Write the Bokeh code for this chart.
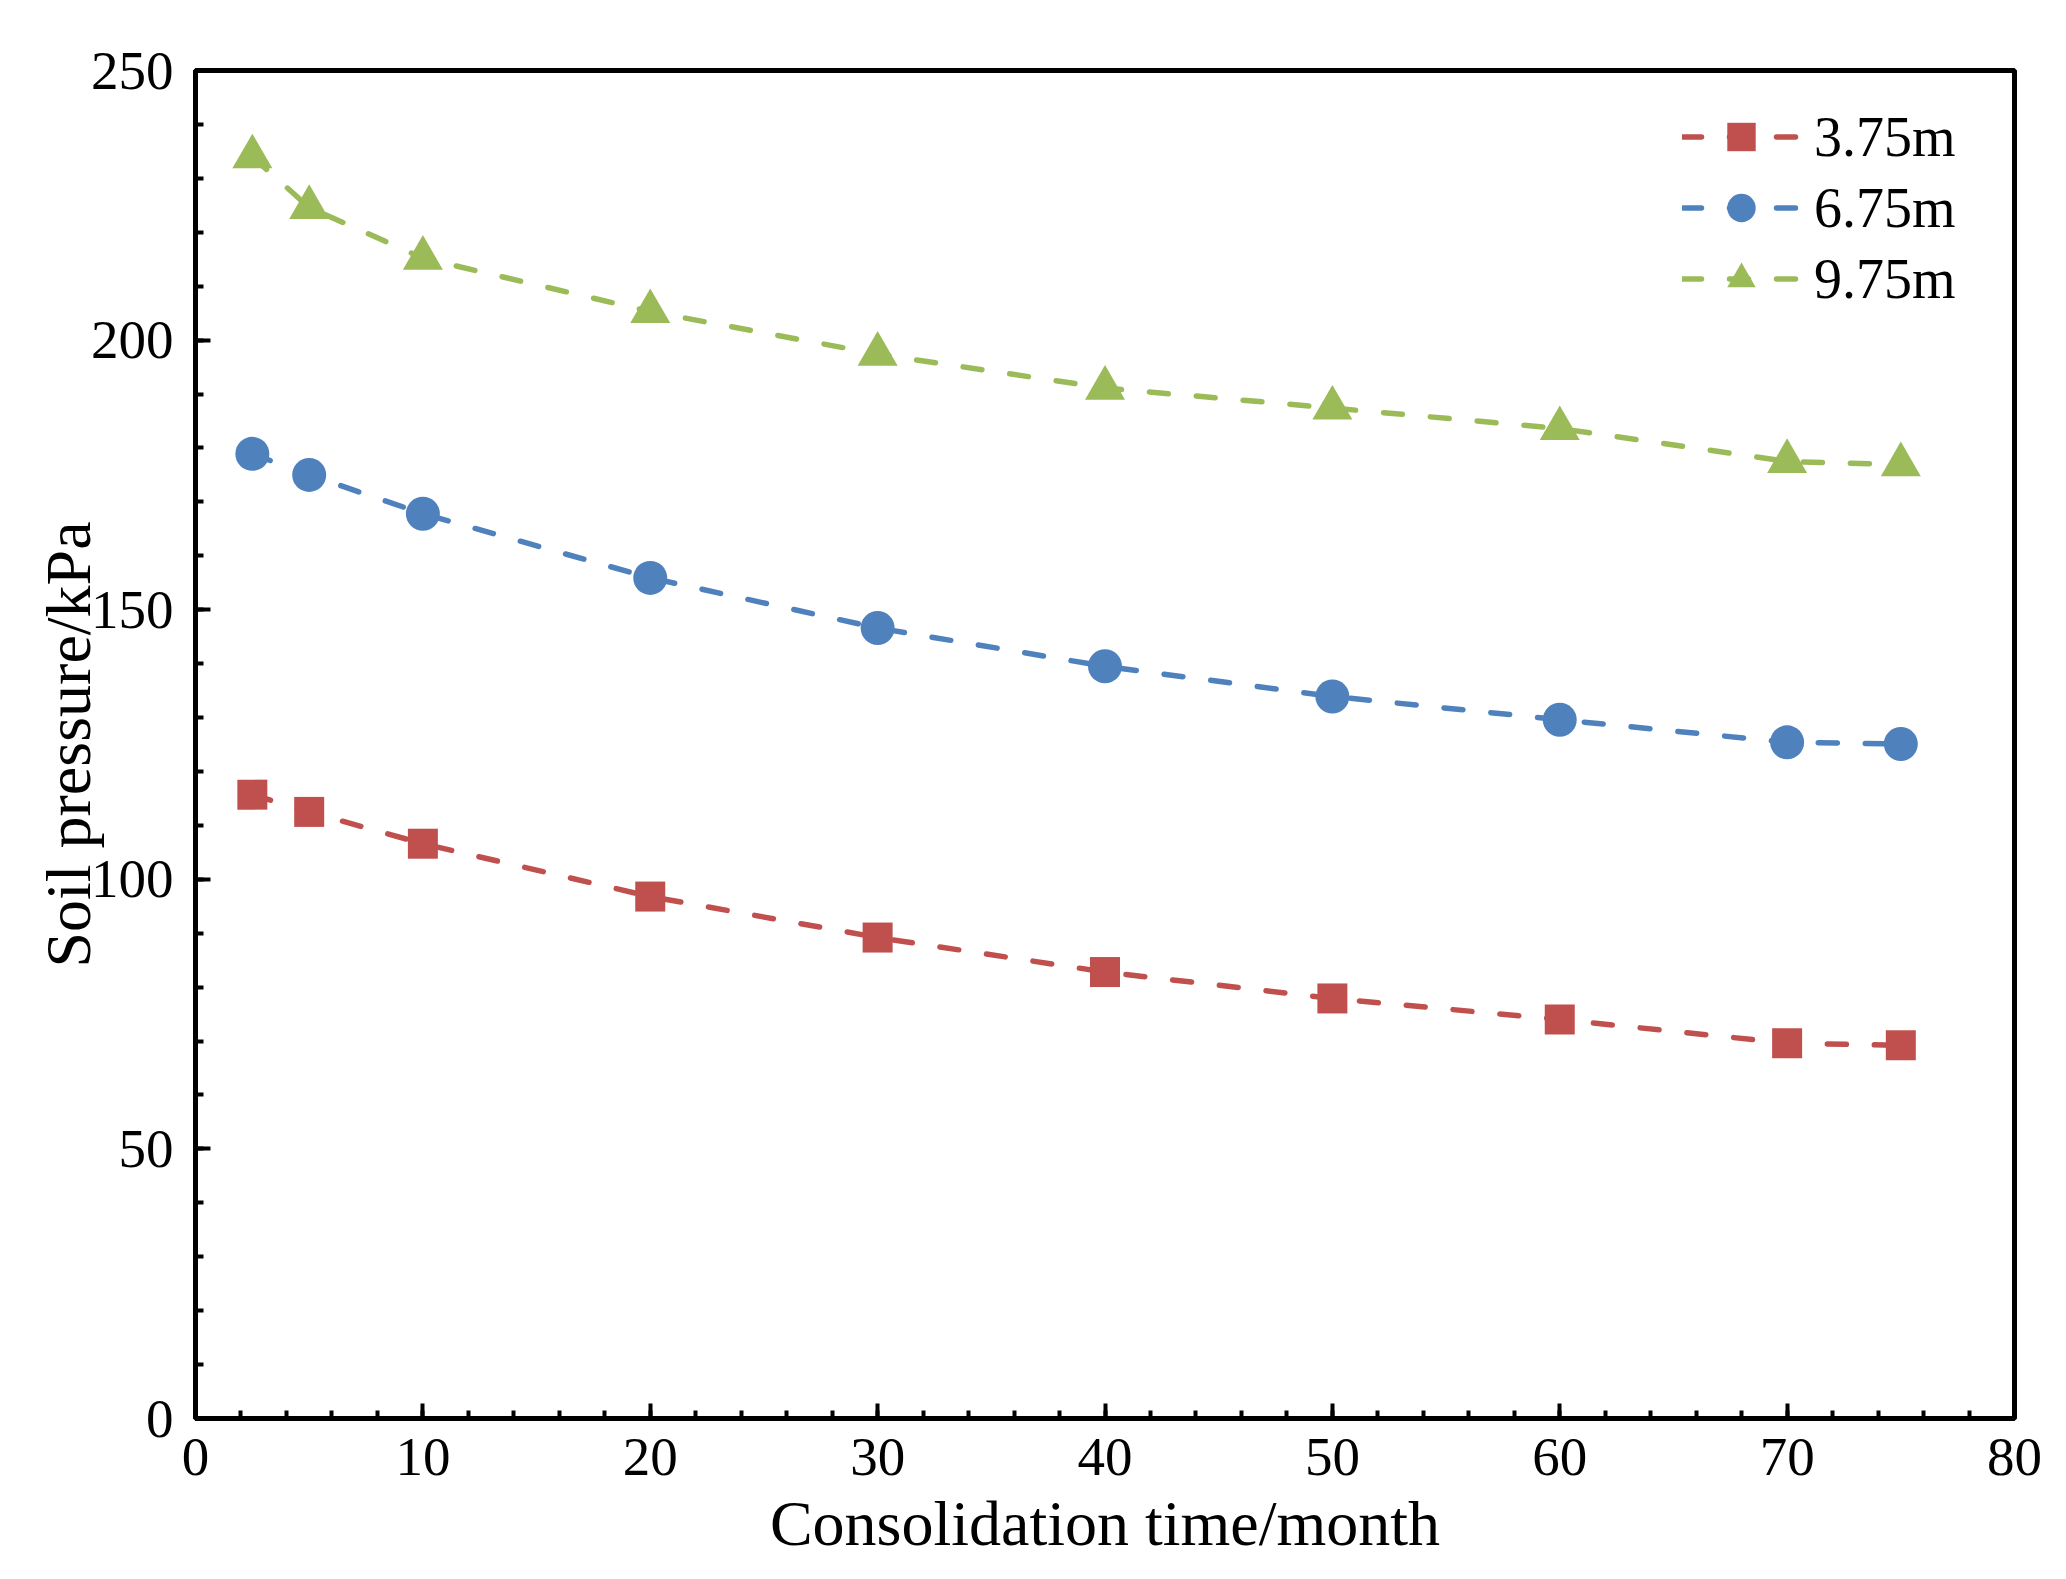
from bokeh.plotting import figure
from bokeh.models import Range1d, SingleIntervalTicker, Legend, LegendItem
from bokeh.embed import file_html
from bokeh.resources import INLINE

# ---- data ----
months = [2.5, 5, 10, 20, 30, 40, 50, 60, 70, 75]
p_375 = [115.7, 112.5, 106.6, 96.8, 89.2, 82.8, 77.9, 74.0, 69.6, 69.2]
p_675 = [178.9, 175.0, 167.8, 155.9, 146.6, 139.5, 133.9, 129.6, 125.4, 125.1]
p_975 = [234.0, 224.6, 215.2, 205.3, 197.4, 191.1, 187.4, 183.6, 177.5, 176.9]
series_names = ["3.75m", "6.75m", "9.75m"]
x_label = "Consolidation time/month"
y_label = "Soil pressure/kPa"

colors = ["#C0504D", "#4F81BD", "#9BBB59"]
markers = ["square", "circle", "triangle"]
msizes = [30, 34, 40]

SERIF = "Liberation Serif"

p = figure(width=2058, height=1571, output_backend="svg", toolbar_location=None,
           x_range=Range1d(0, 80), y_range=Range1d(0, 250),
           min_border_left=195, min_border_right=44, min_border_top=70, min_border_bottom=153)
p.background_fill_color = "white"
p.border_fill_color = "white"
p.grid.visible = False
p.outline_line_color = "black"
p.outline_line_width = 5

p.xaxis.ticker = SingleIntervalTicker(interval=10, num_minor_ticks=5)
p.yaxis.ticker = SingleIntervalTicker(interval=50, num_minor_ticks=5)
for ax in (p.xaxis[0], p.yaxis[0]):
    ax.axis_line_width = 5
    ax.axis_line_color = "black"
    ax.major_tick_in = 15
    ax.major_tick_out = 0
    ax.minor_tick_in = 8
    ax.minor_tick_out = 0
    ax.major_tick_line_width = 4
    ax.minor_tick_line_width = 4
    ax.major_tick_line_color = "black"
    ax.minor_tick_line_color = "black"
    ax.major_label_text_font = SERIF
    ax.major_label_text_font_size = "55px"
    ax.major_label_text_color = "black"
    ax.axis_label_text_font = SERIF
    ax.axis_label_text_font_size = "64px"
    ax.axis_label_text_font_style = "normal"
    ax.axis_label_text_color = "black"
p.xaxis.major_label_standoff = 20
p.yaxis.major_label_standoff = 22
p.xaxis.axis_label_standoff = 10
p.yaxis.axis_label_standoff = -16
p.xaxis.axis_label = x_label
p.yaxis.axis_label = y_label

items = []
for name, ys, c, m, s in zip(series_names, [p_375, p_675, p_975], colors, markers, msizes):
    r1 = p.line(months, ys, line_color=c, line_width=5.5, line_dash="19 28", line_cap="round")
    r2 = p.scatter(months, ys, marker=m, size=s, fill_color=c, line_color=None)
    items.append(LegendItem(label=name, renderers=[r1, r2]))

legend = Legend(items=items, location=(1487, 1104), padding=0, margin=0,
                glyph_width=118, glyph_height=71, label_height=71, spacing=0,
                label_standoff=14, label_text_font=SERIF, label_text_font_size="56px",
                label_text_color="black", border_line_alpha=0, background_fill_alpha=0)
p.add_layout(legend)

open("out.html", "w").write(file_html(p, INLINE))
